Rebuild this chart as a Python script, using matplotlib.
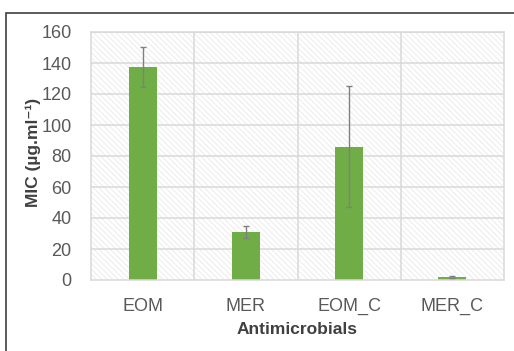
import matplotlib
matplotlib.use("Agg")
import matplotlib.pyplot as plt
from matplotlib.patches import Rectangle
import numpy as np

plt.rcParams['font.family'] = ['Liberation Sans', 'DejaVu Sans']
plt.rcParams['hatch.linewidth'] = 0.45
plt.rcParams['hatch.color'] = '#e2e2e2'

# MIC values per antimicrobial, with standard deviation
categories = ["EOM", "MER", "EOM_C", "MER_C"]
mic_values = [137.5, 31, 86, 2]
mic_errors = [12.7, 4, 39, 0.8]
y_ticks = [0, 20, 40, 60, 80, 100, 120, 140, 160]

W, H = 514, 351
fig = plt.figure(figsize=(W / 100, H / 100), dpi=100)
fig.patch.set_facecolor('white')

# outer chart frame (open to the right and bottom edges)
frame = Rectangle((6 / W, -0.1), 1.2, 1 - 13 / H + 0.1, transform=fig.transFigure,
                  fill=False, edgecolor='#404040', linewidth=1.2, zorder=0)
fig.add_artist(frame)

ax = fig.add_axes([91 / W, 1 - 280 / H, (504 - 91) / W, (280 - 32) / H])
ax.set_facecolor('white')

# hatched plot-area background
ax.add_patch(Rectangle((0, 0), 1, 1, transform=ax.transAxes, facecolor='white',
                       edgecolor='#e2e2e2', hatch='\\\\\\\\\\\\', linewidth=0, zorder=0))

x = np.arange(len(categories))
ax.set_xlim(-0.5, len(categories) - 0.5)
ax.set_ylim(0, 160)

# gridlines
for yv in y_ticks[1:]:
    ax.axhline(yv, color='#d9d9d9', linewidth=1.1, zorder=1)
for xv in np.arange(0.5, len(categories) - 0.5, 1.0):
    ax.axvline(xv, color='#d9d9d9', linewidth=1.1, zorder=1)

ax.bar(x, mic_values, width=0.27, color='#70AD47', zorder=2)
ax.errorbar(x, mic_values, yerr=mic_errors, fmt='none', ecolor='#808080',
            elinewidth=1.0, capsize=2.5, capthick=1.0, zorder=3)

for side in ['left', 'right', 'top', 'bottom']:
    ax.spines[side].set_color('#d9d9d9')
    ax.spines[side].set_linewidth(1.1)

ax.set_yticks(y_ticks)
ax.set_xticks(x)
ax.set_xticklabels(categories)
ax.tick_params(axis='both', length=0, labelsize=13, labelcolor='#595959')
ax.tick_params(axis='y', pad=14)
ax.tick_params(axis='x', pad=13)

ax.set_xlabel("Antimicrobials", fontsize=12.5, fontweight='bold', color='#404040', va='center')
ax.xaxis.set_label_coords(297.5 / W, 1 - 330 / H, transform=fig.transFigure)
ax.set_ylabel("MIC (µg.ml⁻¹)", fontsize=12.5, fontweight='bold', color='#404040', va='center')
ax.yaxis.set_label_coords(33 / W, 1 - 152 / H, transform=fig.transFigure)

fig.savefig("out.png", dpi=100, facecolor='white')
